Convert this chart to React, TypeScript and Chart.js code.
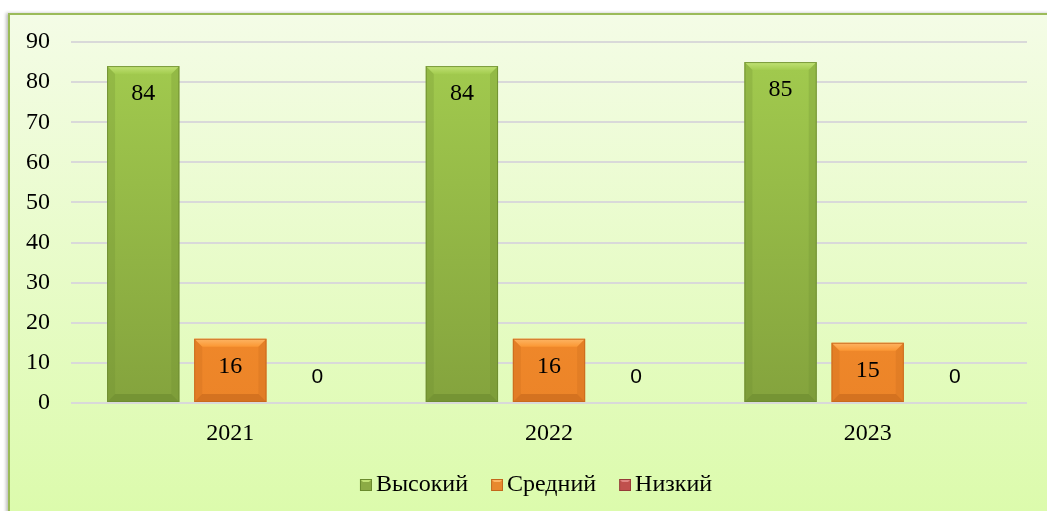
import React, { useEffect, useRef } from "react";
import { Chart, registerables } from "chart.js";

Chart.register(...registerables);

const categories = ["2021", "2022", "2023"];
const seriesNames = ["Высокий", "Средний", "Низкий"];
const highValues = [84, 84, 85];
const midValues = [16, 16, 15];
const lowValues = [0, 0, 0];
const yTicks = [0, 10, 20, 30, 40, 50, 60, 70, 80, 90];

const palettes = [
  { face: "#92b846", top: "#a3cc4f", bottom: "#84a33d", light: "#c2e276", dark: "#6a8a2e", legend: "#8cab45" },
  { face: "#f28a2a", top: "#fb9733", bottom: "#ec8428", light: "#fdb564", dark: "#c4661b", legend: "#e8892e" },
  { face: "#c0504d", top: "#cf5d5a", bottom: "#a84340", light: "#e08582", dark: "#943a37", legend: "#c0504d" },
];

const SERIF = "'Liberation Serif', 'Times New Roman', serif";
const SANS = "'Liberation Sans', Arial, sans-serif";

const bevelPlugin = {
  id: "bevel",
  afterDatasetsDraw(chart: any) {
    const ctx = chart.ctx;
    chart.data.datasets.forEach((ds: any, i: number) => {
      const meta = chart.getDatasetMeta(i);
      const p = palettes[i];
      meta.data.forEach((bar: any) => {
        const { x, y, base, width } = bar.getProps(["x", "y", "base", "width"], true);
        const h = base - y;
        if (h <= 1) return;
        const l = x - width / 2;
        const r = x + width / 2;
        const b = Math.min(8, h / 3);
        ctx.save();
        const tg = ctx.createLinearGradient(0, y, 0, y + b);
        tg.addColorStop(0, p.light);
        tg.addColorStop(1, p.top);
        ctx.fillStyle = tg;
        ctx.beginPath();
        ctx.moveTo(l, y);
        ctx.lineTo(r, y);
        ctx.lineTo(r - b, y + b);
        ctx.lineTo(l + b, y + b);
        ctx.closePath();
        ctx.fill();
        ctx.globalAlpha = 0.25;
        ctx.fillStyle = p.dark;
        ctx.beginPath();
        ctx.moveTo(l, y);
        ctx.lineTo(l + b, y + b);
        ctx.lineTo(l + b, base - b);
        ctx.lineTo(l, base);
        ctx.closePath();
        ctx.fill();
        ctx.beginPath();
        ctx.moveTo(r, y);
        ctx.lineTo(r - b, y + b);
        ctx.lineTo(r - b, base - b);
        ctx.lineTo(r, base);
        ctx.closePath();
        ctx.fill();
        ctx.globalAlpha = 0.6;
        ctx.beginPath();
        ctx.moveTo(l, base);
        ctx.lineTo(l + b, base - b);
        ctx.lineTo(r - b, base - b);
        ctx.lineTo(r, base);
        ctx.closePath();
        ctx.fill();
        ctx.globalAlpha = 0.8;
        ctx.strokeStyle = p.dark;
        ctx.lineWidth = 1;
        ctx.strokeRect(l + 0.5, y + 0.5, width - 1, h - 1);
        ctx.restore();
      });
    });
  },
};

const labelPlugin = {
  id: "valueLabels",
  afterDatasetsDraw(chart: any) {
    const ctx = chart.ctx;
    ctx.save();
    ctx.textAlign = "center";
    ctx.textBaseline = "middle";
    ctx.fillStyle = "#000";
    chart.data.datasets.forEach((ds: any, i: number) => {
      const meta = chart.getDatasetMeta(i);
      meta.data.forEach((bar: any, j: number) => {
        const v = ds.data[j];
        const { x, y, base } = bar.getProps(["x", "y", "base"], true);
        if (v > 0) {
          ctx.font = `24px ${SERIF}`;
          ctx.fillText(String(v), x, y + 28);
        } else {
          ctx.font = `21px ${SANS}`;
          ctx.fillText(String(v), x, base - 26);
        }
      });
    });
    ctx.restore();
  },
};

const legendShiftPlugin = {
  id: "legendShift",
  afterLayout(chart: any) {
    const lg = chart.legend;
    if (lg) {
      lg.left += 16;
      lg.right += 16;
    }
  },
};

function makeFill(i: number) {
  return (c: any) => {
    const chart = c.chart;
    const area = chart.chartArea;
    if (!area) return palettes[i].face;
    const g = chart.ctx.createLinearGradient(0, area.top, 0, area.bottom);
    g.addColorStop(0, palettes[i].top);
    g.addColorStop(1, palettes[i].bottom);
    return g;
  };
}

// legend marker image: 33px wide canvas, 12px box drawn at its right end
function legendBox(i: number) {
  const cv = document.createElement("canvas");
  cv.width = 33;
  cv.height = 12;
  const c = cv.getContext("2d")!;
  const p = palettes[i];
  const ox = 21;
  c.fillStyle = p.legend;
  c.fillRect(ox, 0, 12, 12);
  c.fillStyle = p.light;
  c.beginPath();
  c.moveTo(ox, 0);
  c.lineTo(ox + 12, 0);
  c.lineTo(ox + 9, 3);
  c.lineTo(ox + 3, 3);
  c.closePath();
  c.fill();
  c.strokeStyle = p.dark;
  c.strokeRect(ox + 0.5, 0.5, 11, 11);
  return cv;
}

export default function App() {
  const ref = useRef<HTMLCanvasElement>(null);
  useEffect(() => {
    if (!ref.current) return;
    const boxes = [legendBox(0), legendBox(1), legendBox(2)];
    const valuesList = [highValues, midValues, lowValues];
    const chart = new Chart(ref.current, {
      type: "bar",
      data: {
        labels: categories,
        datasets: seriesNames.map((name, i) => ({
          label: name,
          data: valuesList[i],
          backgroundColor: makeFill(i),
          borderWidth: 0,
          categoryPercentage: 0.82,
          barPercentage: 0.83,
        })),
      },
      options: {
        responsive: false,
        animation: false,
        layout: { padding: { left: 0, top: 42, right: 20, bottom: 4 } },
        plugins: {
          tooltip: { enabled: false },
          legend: {
            position: "bottom",
            labels: {
              font: { family: SERIF, size: 24 },
              color: "#000",
              usePointStyle: true,
              boxWidth: 17,
              boxHeight: 12,
              padding: 10,
              generateLabels: (ch: any) =>
                ch.data.datasets.map((d: any, i: number) => ({
                  text: d.label,
                  pointStyle: boxes[i],
                  fillStyle: palettes[i].legend,
                  strokeStyle: palettes[i].dark,
                  lineWidth: 0,
                  hidden: false,
                  datasetIndex: i,
                })),
            },
          },
        },
        scales: {
          x: {
            grid: { display: false, drawTicks: false },
            border: { display: false },
            ticks: { font: { family: SERIF, size: 24 }, color: "#000", padding: 16 },
            afterFit: (s: any) => {
              s.height = 60;
            },
          },
          y: {
            min: 0,
            max: 90,
            afterBuildTicks: (s: any) => {
              s.ticks = yTicks.map((v) => ({ value: v }));
            },
            grid: { color: "#d9d9d9", lineWidth: 2, drawTicks: false },
            border: { display: false },
            ticks: { font: { family: SERIF, size: 24 }, color: "#000", padding: 21 },
            afterFit: (s: any) => {
              s.width = 71;
            },
          },
        },
      },
      plugins: [bevelPlugin, labelPlugin, legendShiftPlugin],
    } as any);
    return () => chart.destroy();
  }, []);

  return (
    <div style={{ position: "absolute", left: 0, top: 0, width: 1047, height: 511, overflow: "hidden" }}>
      <div
        style={{
          position: "absolute",
          left: 8,
          top: 13,
          width: 1060,
          height: 520,
          border: "2px solid #9bbb59",
          boxSizing: "border-box",
          background: "linear-gradient(#f4fce6, #dbfbaa)",
          boxShadow: "-2px 0 3px rgba(0,0,0,0.25)",
        }}
      />
      <canvas ref={ref} width={1047} height={511} style={{ position: "absolute", left: 0, top: 0 }} />
    </div>
  );
}
